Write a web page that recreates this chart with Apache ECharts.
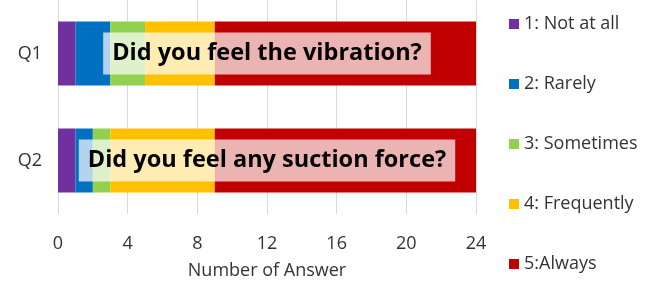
<!DOCTYPE html>
<html>
<head>
<meta charset="utf-8">
<script src="https://cdn.jsdelivr.net/npm/echarts@6/dist/echarts.min.js"></script>
<style>
  html, body { margin: 0; padding: 0; background: #fff; }
  #main { width: 652px; height: 285px; }
</style>
</head>
<body>
<div id="main"></div>
<script>
var categories = ["Q1", "Q2"];
var notAtAll = [1, 1];
var rarely = [2, 1];
var sometimes = [2, 1];
var frequently = [4, 6];
var always = [15, 15];
var questions = ["Did you feel the vibration?", "Did you feel any suction force?"];
var questionAnchor = [12, 12];
var xTicks = [0, 4, 8, 12, 16, 20, 24];

var legendNames = ["1: Not at all", "2: Rarely", "3: Sometimes", "4: Frequently", "5:Always"];
var colors = ["#7030A0", "#0070C0", "#92D050", "#FFC000", "#C00000"];
var values = [notAtAll, rarely, sometimes, frequently, always];

var font = "'Open Sans', sans-serif";
var textColor = "#333333";

var series = legendNames.map(function (name, i) {
  return {
    name: name,
    type: "bar",
    stack: "total",
    barWidth: 64,
    itemStyle: { color: colors[i] },
    data: values[i]
  };
});

// question text boxes laid over the bars
series.push({
  name: "questions",
  type: "scatter",
  symbolSize: 1,
  itemStyle: { color: "rgba(0,0,0,0)", opacity: 1 },
  silent: true,
  z: 10,
  label: {
    show: true,
    opacity: 1,
    position: "inside",
    formatter: function (p) { return p.name; },
    color: "#000000",
    fontFamily: font,
    fontWeight: "bold",
    fontSize: 23.5,
    lineHeight: 30,
    backgroundColor: "rgba(255,255,255,0.7)",
    padding: [6, 9]
  },
  data: questions.map(function (q, i) {
    return { name: q, value: [questionAnchor[i], categories[i]] };
  })
});

var myChart = echarts.init(document.getElementById("main"));
var option = {
  animation: false,
  color: colors,
  legend: {
    data: legendNames,
    orient: "vertical",
    left: 504,
    top: 10,
    itemWidth: 10,
    itemHeight: 10,
    itemGap: 42,
    icon: "rect",
    textStyle: { fontSize: 18, color: textColor, fontFamily: font }
  },
  grid: {
    left: 58,
    right: 176,
    top: 0,
    bottom: 69
  },
  xAxis: {
    type: "value",
    min: 0,
    max: 24,
    interval: 4,
    name: "Number of Answer",
    nameLocation: "middle",
    nameGap: 48,
    nameTextStyle: { fontSize: 18, color: textColor, fontFamily: font },
    axisLine: { show: false },
    axisTick: { show: false },
    axisLabel: {
      margin: 21,
      fontSize: 18,
      color: textColor,
      fontFamily: font,
      formatter: function (v) { return xTicks.indexOf(v) >= 0 ? String(v) : ""; }
    },
    splitLine: { show: true, lineStyle: { color: "#d9d9d9", width: 1 } }
  },
  yAxis: {
    type: "category",
    data: categories,
    inverse: true,
    axisLine: { show: false },
    axisTick: { show: false },
    axisLabel: { margin: 16, fontSize: 18, color: textColor, fontFamily: font }
  },
  series: series
};
myChart.setOption(option);
</script>
</body>
</html>
